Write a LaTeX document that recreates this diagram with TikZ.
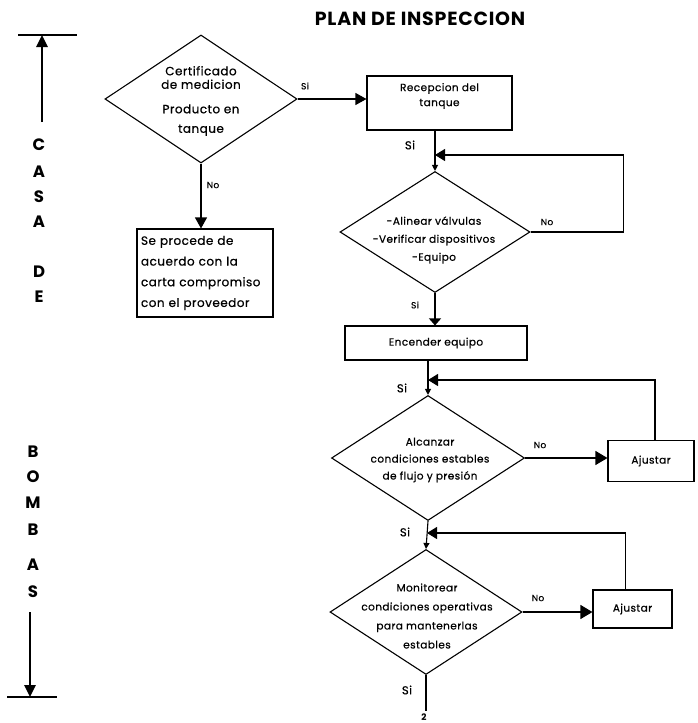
\documentclass[tikz,border=0pt]{standalone}
\usepackage{fontspec}
\setmainfont{Poppins}[LetterSpace=4, UprightFeatures={FakeBold=0.6}]
\usetikzlibrary{shapes.geometric,arrows.meta}

\begin{document}
\begin{tikzpicture}[x=1pt,y=1pt,
		every node/.style={inner sep=0pt},
		linea/.style={line width=1.1pt},
		caja/.style={draw, rectangle, linea, align=center, font=\fontsize{10.5}{18}\selectfont},
		rombo/.style={draw, diamond, linea},
		texto/.style={align=center, font=\fontsize{10.5}{18}\selectfont},
		etiq/.style={font=\fontsize{9}{10}\selectfont},
		si/.style={font=\fontsize{11.5}{12}\selectfont},
		lado/.style={font=\bfseries\fontsize{16.5}{16.5}\selectfont},
		borde/.style={line width=2.6pt},
		flecha/.style={linea, -{Triangle[length=11pt,width=12pt]}},
		flechano/.style={linea, -{Triangle[length=12pt,width=14pt]}},
		flechita/.style={linea, -{Triangle[length=6pt,width=6pt]}},
		regreso/.style={linea, -{Triangle[length=10pt,width=12pt]}}]

	\useasboundingbox (0,0) rectangle (697,-723);

	\node[font=\bfseries\fontsize{19}{19}\selectfont] (titulo) at (420,-19) {PLAN DE INSPECCION};

	% barra lateral
	\coordinate (tope) at (42,-35);
	\coordinate (tope0) at (42,-122);
	\coordinate (base) at (30,-697);
	\coordinate (base0) at (30,-612);
	\draw [borde] (18,-35) -- (77,-35);
	\draw [borde] (7,-697) -- (57,-697);
	\draw [borde, -{Triangle[length=12pt,width=11pt]}] (tope0) -- (tope);
	\draw [borde, -{Triangle[length=12pt,width=11pt]}] (base0) -- (base);
	\foreach \l/\y [count=\i] in {C/145,A/172,S/197,A/222,D/272,E/297}
		\node [lado] (casa\i) at (39,-\y) {\l};
	\foreach \l/\y [count=\i] in {B/452,O/477,M/503,B/530,A/565,S/592}
		\node [lado] (bombas\i) at (33,-\y) {\l};

	% certificado
	\node [rombo, minimum width=192pt, minimum height=128pt] (cert) at (201,-99) {};
	\node [texto, font=\fontsize{12}{13.5}\selectfont] (certtxt) at (201,-101) {Certificado\\de medicion\\[11pt]Producto en\\[6pt]tanque};
	\node [caja, minimum width=145pt, minimum height=54pt] (recep) at (439.5,-103) {};
	\node [texto, font=\fontsize{10.5}{15}\selectfont] (receptxt) at (439.5,-96) {Recepcion del\\tanque};
	\node [caja, align=left, text width=128pt, inner sep=4pt, minimum height=88pt,
		font=\fontsize{12}{20.7}\selectfont] (carta) at (205,-273)
		{Se procede de\\acuerdo con la\\carta compromiso\\con el proveedor};
	\draw [flecha] (cert.east) -- (cert.east -| recep.west);
	\node [etiq] (si1) at (305,-86) {Si};
	\draw [flecha] (cert.south) -- (cert.south |- carta.north);
	\node [etiq] (no1) at (213,-185) {No};

	% alinear
	\node [rombo, minimum width=190pt, minimum height=121pt] (alin) at (435,-232) {};
	\node [texto] (alintxt) at (434,-240) {-Alinear válvulas\\-Verificar dispositivos\\-Equipo};
	\coordinate (j1) at (435,-155);
	\draw [flechita] (recep.south -| alin.north) -- (alin.north);
	\draw [regreso] (alin.east) -- ++(93,0) |- (j1);
	\node [si] (si2) at (410,-145) {Si};
	\node [etiq] (no2) at (547,-222) {No};

	% encender
	\node [caja, minimum width=182pt, minimum height=34pt] (enc) at (436,-343) {Encender equipo};
	\draw [linea, -{Triangle[length=7pt,width=12pt]}] (alin.south) -- (alin.south |- enc.north);
	\node [etiq] (si3) at (415,-305) {Si};

	% condiciones estables
	\node [rombo, minimum width=193pt, minimum height=125pt] (alc) at (428,-458) {};
	\node [texto, font=\fontsize{10.5}{17}\selectfont] (alctxt) at (430,-460) {Alcanzar\\condiciones estables\\de flujo y presión};
	\node [caja, minimum width=86pt, minimum height=41pt] (aj1) at (651,-461) {Ajustar};
	\coordinate (j2) at (428,-380);
	\draw [flechita] (enc.south -| alc.north) -- (alc.north);
	\draw [flechano] (alc.east) -- (alc.east -| aj1.west);
	\draw [regreso] ([xshift=4pt]aj1.north) |- (j2);
	\node [si] (si4) at (402,-388) {Si};
	\node [etiq] (no3) at (540,-445) {No};

	% monitorear
	\node [rombo, minimum width=192pt, minimum height=125pt] (mon) at (426,-612) {};
	\node [texto, font=\fontsize{10.5}{19}\selectfont] (montxt) at (427,-616) {Monitorear\\condiciones operativas\\para mantenerlas\\estables};
	\node [caja, minimum width=79pt, minimum height=38pt] (aj2) at (632.5,-609) {Ajustar};
	\coordinate (j3) at (427,-533);
	\draw [flechita] (alc.south) -- (mon.north);
	\draw [flechano] (mon.east) -- (mon.east -| aj2.west);
	\draw [regreso] ([xshift=-7pt]aj2.north) |- (j3);
	\node [si] (si5) at (405,-532) {Si};
	\node [etiq] (no4) at (538,-598) {No};

	% salida
	\node [font=\bfseries\fontsize{9}{9}\selectfont] (dos) at (424,-717) {2};
	\draw [linea, shorten >=2pt] (mon.south) -- (mon.south |- dos.north);
	\node [si] (si6) at (407,-690) {Si};
\end{tikzpicture}
\end{document}
